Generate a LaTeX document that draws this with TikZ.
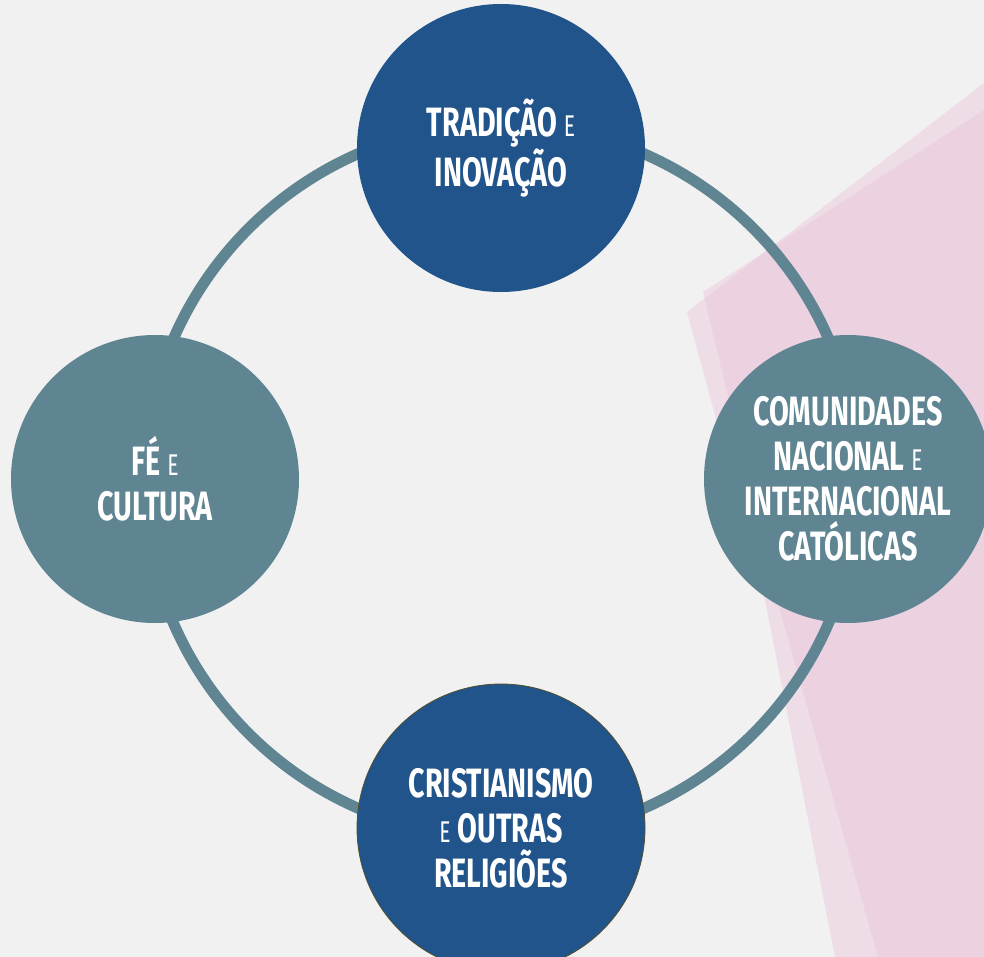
\documentclass[tikz,border=0pt]{standalone}
\usepackage{fontspec}
\usetikzlibrary{positioning}
\newfontfamily\circfont{Fira Sans}[FakeStretch=0.7]
\definecolor{pblue}{HTML}{20548A}
\definecolor{pteal}{HTML}{5F8492}
\definecolor{paper}{HTML}{F1F1F1}
\definecolor{sheet}{HTML}{ECC9DC}
\newcommand{\conj}{{\mdseries\fontsize{30}{45}\selectfont E}}
\tikzstyle{topic} = [circle, minimum size=288pt, inner sep=0pt,
    text=white, align=center,
    font=\circfont\bfseries\fontsize{41}{45}\selectfont]
\tikzstyle{bluetopic} = [topic, fill=pblue]
\tikzstyle{tealtopic} = [topic, fill=pteal]
\tikzstyle{ring} = [draw=pteal, line width=11pt]
\tikzstyle{paperlayer} = [fill=sheet, opacity=0.5]

\begin{document}
\begin{tikzpicture}[x=1pt, y=-1pt]
% background and pink sheets
\fill[paper] (0,0) rectangle (984,957);
\useasboundingbox (0,0) rectangle (984,957);
\fill[paperlayer] (687,312) -- (984,83) -- (984,957) -- (835,957) -- (765,600) -- cycle;
\fill[paperlayer] (703,292) -- (984,110) -- (984,957) -- (878,957) -- (777,600) -- cycle;

% ring
\coordinate (hub) at (501,481);
\draw[ring] (hub) circle (357);

% the four themes
\node (tradicao) [bluetopic] at (501,148) {TRADIÇÃO \conj\\INOVAÇÃO};
\node (fe) [tealtopic] at (155,479) {FÉ \conj\\CULTURA};
\node (comunidades) [tealtopic] at (848,479) {COMUNIDADES\\NACIONAL \conj\\INTERNACIONAL\\CATÓLICAS};
\node (religioes) [bluetopic, draw=black!55!olive, line width=0.8pt] at (501,828) {CRISTIANISMO\\\conj{} OUTRAS\\RELIGIÕES};
\end{tikzpicture}
\end{document}
